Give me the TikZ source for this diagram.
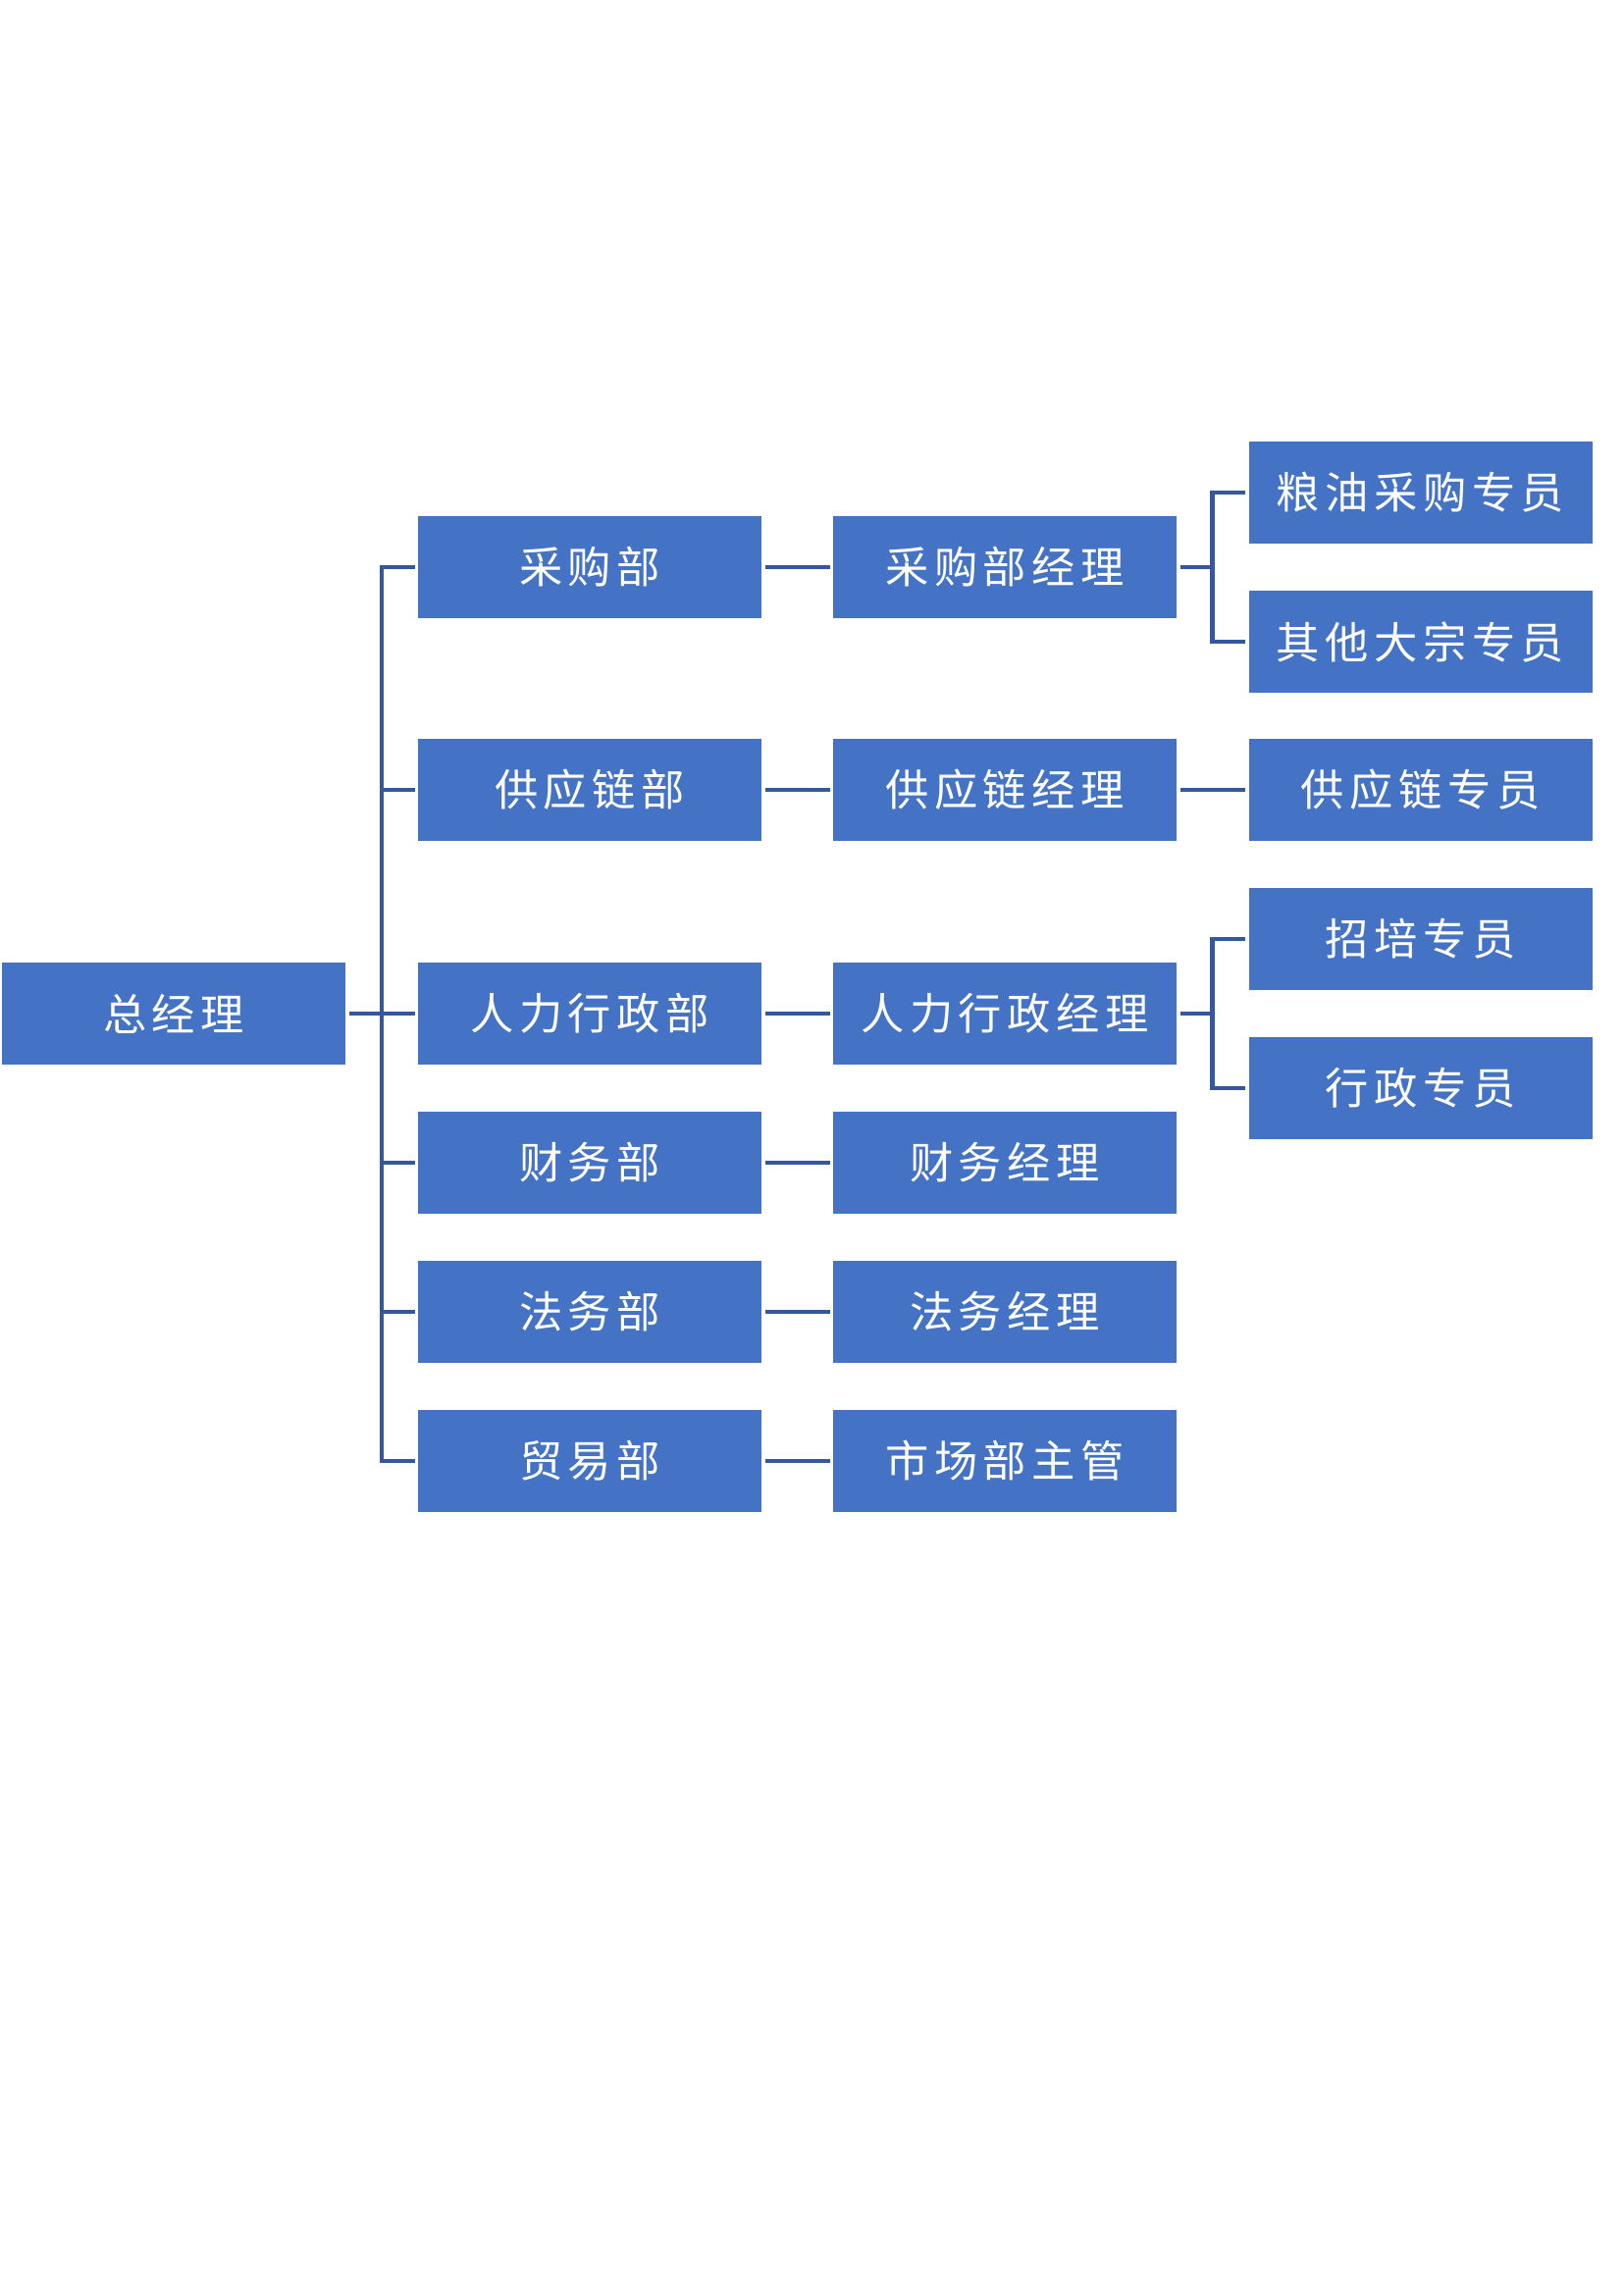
\documentclass[tikz,border=0pt]{standalone}
\usepackage{fontspec}
\newfontfamily\cjk[LetterSpace=12.5]{Noto Sans CJK SC}
\definecolor{boxblue}{RGB}{68,114,196}
\definecolor{linkblue}{RGB}{52,88,158}
\begin{document}
\begin{tikzpicture}[x=0.36bp,y=-0.36bp,
  orgbox/.style={rectangle,fill=boxblue,text=white,minimum width=126bp,minimum height=37.44bp,inner sep=0pt,outer sep=1.26bp,font=\cjk\fontsize{16pt}{18pt}\selectfont},
  link/.style={draw=linkblue,line width=1.5bp,line join=miter}]
\useasboundingbox (0,0) rectangle (1654,2339);
\node[orgbox] (g) at (177,1033) {总经理};
\node[orgbox] (dA) at (601,578) {采购部};
\node[orgbox] (dB) at (601,805) {供应链部};
\node[orgbox] (dC) at (601,1033) {人力行政部};
\node[orgbox] (dD) at (601,1185) {财务部};
\node[orgbox] (dE) at (601,1337) {法务部};
\node[orgbox] (dF) at (601,1489) {贸易部};
\node[orgbox] (mA) at (1024,578) {采购部经理};
\node[orgbox] (mB) at (1024,805) {供应链经理};
\node[orgbox] (mC) at (1024,1033) {人力行政经理};
\node[orgbox] (mD) at (1024,1185) {财务经理};
\node[orgbox] (mE) at (1024,1337) {法务经理};
\node[orgbox] (mF) at (1024,1489) {市场部主管};
\node[orgbox] (l1) at (1447.5,502) {粮油采购专员};
\node[orgbox] (l2) at (1447.5,654) {其他大宗专员};
\node[orgbox] (l3) at (1447.5,805) {供应链专员};
\node[orgbox] (l4) at (1447.5,957) {招培专员};
\node[orgbox] (l5) at (1447.5,1109) {行政专员};
% level 1 to level 2
\draw[link] (g.east) -- (dC.west);
\draw[link] (dA.west) -- ++(-33.5,0) |- (dF.west);
\foreach \n in {dB,dC,dD,dE}{\draw[link] (\n.west) -- ++(-33.5,0);}
% level 2 to level 3
\foreach \a/\b in {dA/mA,dB/mB,dC/mC,dD/mD,dE/mE,dF/mF}{\draw[link] (\a.east) -- (\b.west);}
% level 3 to level 4
\draw[link] (mA.east) -- ++(33.5,0);
\draw[link] (l1.west) -- ++(-33.5,0) |- (l2.west);
\draw[link] (mB.east) -- (l3.west);
\draw[link] (mC.east) -- ++(33.5,0);
\draw[link] (l4.west) -- ++(-33.5,0) |- (l5.west);
\end{tikzpicture}
\end{document}
